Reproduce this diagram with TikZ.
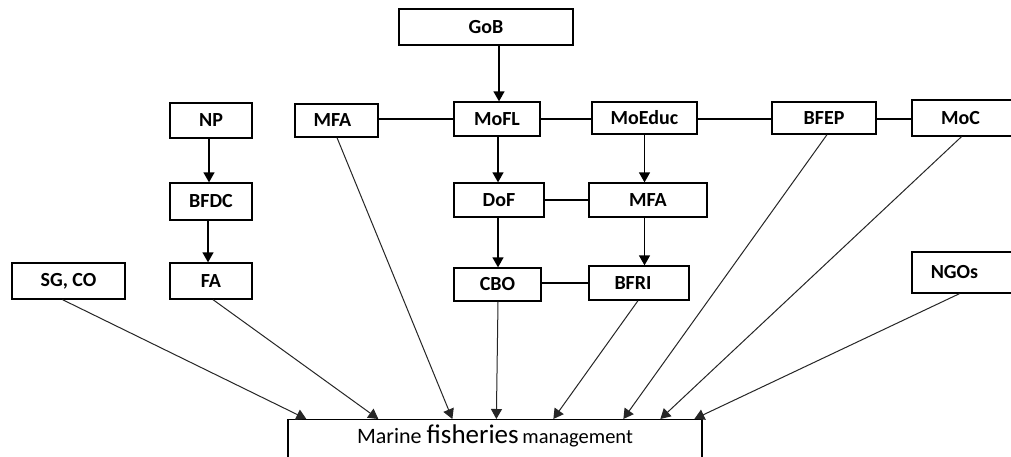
\documentclass[tikz,border=0pt]{standalone}
\usepackage{fontspec}
\setmainfont{Carlito}
\usetikzlibrary{arrows.meta,calc}
\tikzset{
  box/.style={draw=black, line width=1.3pt, rectangle, inner sep=0pt, font=\fontsize{20}{20}\selectfont\bfseries, text=black},
  link/.style={draw=black, line width=1.1pt},
  arr/.style={draw=black, line width=1.3pt, -{Triangle[length=10pt,width=11pt]}},
  diag/.style={draw=black!85, line width=1pt, -{Triangle[length=10pt,width=11pt]}}
}
\begin{document}
\begin{tikzpicture}[x=1pt,y=-1pt]
\useasboundingbox[fill=white] (0,0) rectangle (1011,456);
% boxes
\node[box, minimum width=174pt, minimum height=36pt] (gob) at (486,27) {GoB};
\node[box, minimum width=83pt, minimum height=33pt] (mfa1) at (336.5,120.5) {\hspace{-8pt}MFA};
\node[box, minimum width=86pt, minimum height=34pt] (mofl) at (497,119) {\raisebox{-3pt}{MoFL}};
\node[box, minimum width=105pt, minimum height=32pt] (moeduc) at (644.5,118) {\raisebox{2pt}{MoEduc}};
\node[box, minimum width=104pt, minimum height=32pt] (bfep) at (824,118) {BFEP};
\node[box, minimum width=103pt, minimum height=36pt] (moc) at (963.5,118) {\hspace{-6pt}MoC};
\node[box, minimum width=90pt, minimum height=34pt] (dof) at (499,200) {DoF};
\node[box, minimum width=118pt, minimum height=34pt] (mfa2) at (648,200) {MFA};
\node[box, minimum width=87pt, minimum height=33pt] (cbo) at (497.5,284.5) {CBO};
\node[box, minimum width=100pt, minimum height=34pt] (bfri) at (639,283) {\hspace{-12pt}BFRI};
\node[box, minimum width=82pt, minimum height=35pt] (np) at (211,120.5) {NP};
\node[box, minimum width=82pt, minimum height=37pt] (bfdc) at (211,201.5) {BFDC};
\node[box, minimum width=82pt, minimum height=36pt] (fa) at (211,281) {FA};
\node[box, minimum width=113pt, minimum height=36pt] (sgco) at (68.5,281) {SG, CO};
\node[box, minimum width=103pt, minimum height=41pt] (ngos) at (963.5,272.5) {\hspace{-18pt}NGOs};
\node[box, anchor=north, minimum width=414pt, inner ysep=8pt, text height=16pt, text depth=30pt, font=\fontsize{22}{22}\selectfont] (mfm) at (495,419)
  {Marine {\fontsize{27}{27}\selectfont fisheries}\,{\fontsize{20.5}{20.5}\selectfont management}};
% vertical arrows
\draw[arr] ($(gob.south)+(13,0)$) -- ($(mofl.north)+(2,0)$);
\draw[arr] ($(mofl.south)+(1,0)$) -- ($(dof.north)+(-1,0)$);
\draw[arr] ($(dof.south)+(-1,0)$) -- ($(cbo.north)+(0.5,0)$);
\draw[arr] (moeduc.south) -- ($(mfa2.north)+(-3.5,0)$);
\draw[arr] ($(mfa2.south)+(-3.5,0)$) -- ($(bfri.north)+(5.5,0)$);
\draw[arr] ($(np.south)+(-2,0)$) -- ($(bfdc.north)+(-2,0)$);
\draw[arr] ($(bfdc.south)+(-3,0)$) -- ($(fa.north)+(-3,0)$);
% horizontal links
\draw[link] (mfa1.east |- 0,119) -- (mofl.west |- 0,119);
\draw[link] (mofl.east |- 0,119) -- (moeduc.west |- 0,119);
\draw[link] (moeduc.east |- 0,119) -- (bfep.west |- 0,119);
\draw[link] (bfep.east |- 0,119) -- (moc.west |- 0,119);
\draw[link] (dof.east |- 0,200) -- (mfa2.west |- 0,200);
\draw[link] (cbo.east |- 0,283) -- (bfri.west |- 0,283);
% diagonal arrows to marine fisheries management
\draw[diag] ($(sgco.south)+(-6,0)$) -- ($(mfm.north west)+(19,0)$);
\draw[diag] ($(fa.south)+(2,0)$) -- ($(mfm.north west)+(91,0)$);
\draw[diag] ($(mfa1.south)+(0.5,0)$) -- ($(mfm.north west)+(165,0)$);
\draw[diag] ($(cbo.south)+(0.5,0)$) -- ($(mfm.north west)+(209,0)$);
\draw[diag] ($(bfri.south)+(-1,0)$) -- ($(mfm.north west)+(266,0)$);
\draw[diag] ($(bfep.south)+(3,0)$) -- ($(mfm.north west)+(336,0)$);
\draw[diag] ($(moc.south)+(-2,0)$) -- ($(mfm.north west)+(373,0)$);
\draw[diag] ($(ngos.south)+(-4,0)$) -- ($(mfm.north west)+(407,0)$);
\end{tikzpicture}
\end{document}
